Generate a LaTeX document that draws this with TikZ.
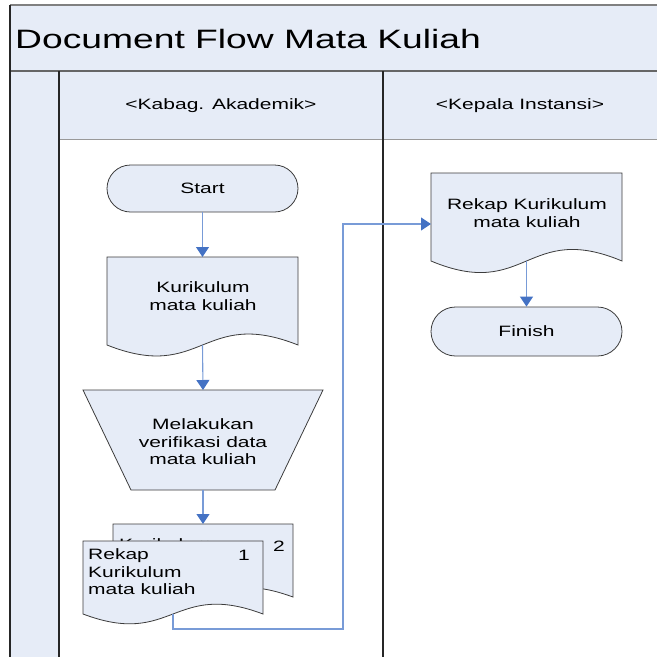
\documentclass[tikz,border=0pt]{standalone}
\usepackage{fontspec}
\setmainfont[FakeStretch=1.4]{Liberation Sans}
\usetikzlibrary{shapes.misc,arrows.meta,calc}
\definecolor{lanefill}{RGB}{230,236,247}
\definecolor{conn}{RGB}{120,155,215}
\definecolor{tipc}{RGB}{68,114,196}
\definecolor{outl}{RGB}{60,60,60}
\newcommand\ttlfont{\fontsize{26.6}{30}\selectfont}
\newcommand\bodyfnt{\fontsize{15}{17.5}\selectfont}
\newcommand\docpath[2]{%
  \draw[docline] (#1.north west) -- (#1.north east) -- (#1.south east)
    .. controls ($(#1.south)+(0,-#2)$) and ($(#1.south)+(0,#2)$) .. (#1.south west) -- cycle;}
\begin{document}
\begin{tikzpicture}[x=1pt,y=-1pt,
  geom/.style 2 args={rectangle,inner sep=0pt,outer sep=0pt,minimum width=#1pt,minimum height=#2pt},
  term/.style={rounded rectangle,draw=outl,fill=lanefill,line width=0.8pt,inner sep=0pt,
     minimum width=191pt,minimum height=47pt,font=\bodyfnt},
  docline/.style={draw=outl,fill=lanefill,line width=0.8pt},
  txt/.style={inner sep=0pt,font=\bodyfnt,align=center},
  flow/.style={draw=conn,line width=1.1pt,-{Triangle[length=10pt,width=13pt,color=tipc]}}]
\useasboundingbox (0,0) rectangle (657,657);
% backgrounds
\fill[lanefill] (10,5) rectangle (657,71);
\fill[lanefill] (10,71) rectangle (59,657);
\fill[lanefill] (59,71) rectangle (657,139);
\draw[gray,line width=1.5pt] (10,5) -- (657,5);
\draw[black!60,line width=2pt] (10,71) -- (657,71);
\draw[black!40,line width=1pt] (59,139) -- (657,139);
\draw[black!85,line width=1.3pt] (10,5) -- (10,657);
\draw[black!85,line width=1.3pt] (59,71) -- (59,657);
\draw[black!85,line width=1.3pt] (383,71) -- (383,657);
% title and headers
\node[anchor=base west,inner sep=0pt,font=\ttlfont] (title) at (15,48) {Document Flow Mata Kuliah};
\node[txt] (h1) at (221,106) {<Kabag. Akademik>};
\node[txt] (h2) at (520,106) {<Kepala Instansi>};
% start
\node[term] (start) at (202.5,188.5) {Start};
% kurikulum document
\node[geom={191}{88}] (kur) at (202.5,301) {};
\docpath{kur}{38}
\node[txt] (kurtxt) at (203,296) {Kurikulum\\mata kuliah};
% verification trapezium
\node[geom={240}{100}] (ver) at (203,440) {};
\draw[docline] (ver.north west) -- (ver.north east) -- ($(ver.south east)+(-48,0)$)
   -- ($(ver.south west)+(48,0)$) -- cycle;
\node[txt] (vertxt) at (203,442) {Melakukan\\verifikasi data\\mata kuliah};
% multi-document
\node[geom={180}{73}] (bk) at (203,560.5) {};
\docpath{bk}{33}
\node[anchor=base west,inner sep=0pt,font=\bodyfnt] (bktxt) at (119,549) {Kurikulum};
\node[anchor=base west,inner sep=0pt,font=\bodyfnt] (bknum) at (273,551) {2};
\node[geom={180}{73}] (fr) at (173,577.5) {};
\docpath{fr}{34}
\node[anchor=north west,inner sep=0pt,font=\bodyfnt,align=left] (frtxt) at (88,548.5) {Rekap\\Kurikulum\\mata kuliah};
\node[anchor=base west,inner sep=0pt,font=\bodyfnt] (frnum) at (238,560) {1};
% right lane
\node[geom={191}{88}] (rk) at (526.5,217) {};
\docpath{rk}{40}
\node[txt] (rktxt) at (527,213) {Rekap Kurikulum\\mata kuliah};
\node[term,minimum height=49pt] (finish) at (526.5,331.5) {Finish};
% connectors
\coordinate (turn) at (343,629);
\coordinate (rin) at (431,224);
\draw[flow] (start.south) -- (kur.north);
\draw[flow] (kur.south) -- (ver.north);
\draw[flow] (ver.south) -- (bk.north);
\draw[flow] (fr.south) |- (turn) |- (rin);
\draw[flow] (rk.south) -- (finish.north);
\end{tikzpicture}
\end{document}
